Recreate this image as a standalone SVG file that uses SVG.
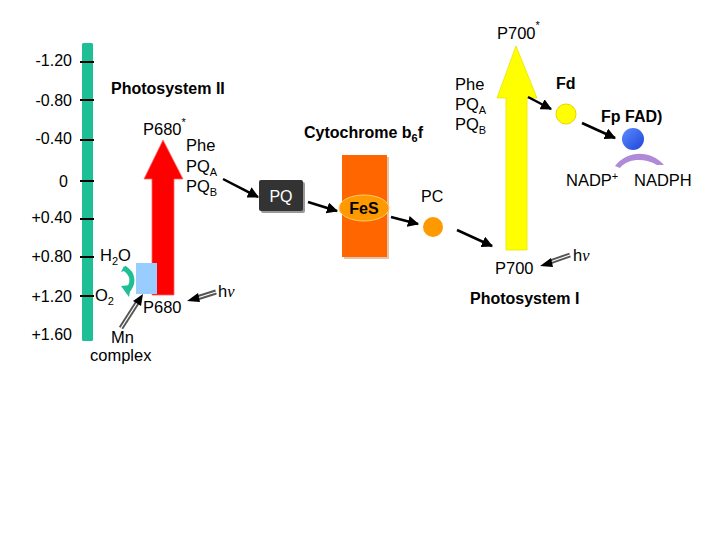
<svg xmlns="http://www.w3.org/2000/svg" width="720" height="540" viewBox="0 0 720 540">
<defs>
<marker id="ah" viewBox="0 0 10 10" refX="9" refY="5" markerWidth="4.5" markerHeight="4.5" orient="auto" markerUnits="strokeWidth">
<path d="M0,0 L10,5 L0,10 z" fill="#000"/>
</marker>
<linearGradient id="blueg" x1="0" y1="0" x2="1" y2="1">
<stop offset="0" stop-color="#5b8cff"/><stop offset="1" stop-color="#1f44d8"/>
</linearGradient>
</defs>
<style>
text{font-family:"Liberation Sans",Arial,sans-serif;fill:#000}
.ax{font-size:16px;text-anchor:end}
.lb{font-size:16.5px}
.bd{font-size:16px;font-weight:bold}
.sub{font-size:11px}
.con{stroke:#000;stroke-width:2.5;fill:none}
.tick{stroke:#000;stroke-width:2}
.hv1{stroke:#555;stroke-width:5;fill:none}
.hv2{stroke:#fff;stroke-width:1.2;fill:none}
</style>
<rect width="720" height="540" fill="#fff"/>

<g id="scale">
<rect x="82" y="43" width="11" height="298" fill="#1fbf96" rx="1.5"/>
<line class="tick" x1="80" y1="62" x2="94" y2="62"/>
<line class="tick" x1="80" y1="100" x2="94" y2="100"/>
<line class="tick" x1="80" y1="140" x2="94" y2="140"/>
<line class="tick" x1="80" y1="181" x2="94" y2="181"/>
<line class="tick" x1="80" y1="219" x2="94" y2="219"/>
<line class="tick" x1="80" y1="257" x2="94" y2="257"/>
<line class="tick" x1="80" y1="296" x2="94" y2="296"/>
<text class="ax" x="72" y="66">-1.20</text>
<text class="ax" x="72" y="106">-0.80</text>
<text class="ax" x="72" y="144">-0.40</text>
<text class="ax" x="68" y="187">0</text>
<text class="ax" x="72" y="223">+0.40</text>
<text class="ax" x="72" y="262">+0.80</text>
<text class="ax" x="72" y="302">+1.20</text>
<text class="ax" x="72" y="340">+1.60</text>
</g>

<g id="ps2">
<text class="bd" x="111" y="94">Photosystem II</text>
<path d="M152,295 L152,179 L144,179 L163,140 L183,179 L174,179 L174,295 Z" fill="#ff0000" stroke="#ff6666" stroke-width="0.8"/>
<rect x="136" y="263" width="21" height="31" fill="#99ccff"/>
<text class="lb" x="143" y="135">P680<tspan class="sub" dy="-9">*</tspan></text>
<text class="lb" x="186" y="151">Phe</text>
<text class="lb" x="186" y="172">PQ<tspan class="sub" dy="4">A</tspan></text>
<text class="lb" x="186" y="192">PQ<tspan class="sub" dy="4">B</tspan></text>
<text class="lb" x="143" y="313">P680</text>
<text class="lb" x="100" y="261">H<tspan class="sub" dy="4">2</tspan><tspan dy="-4">O</tspan></text>
<text class="lb" x="95" y="301">O<tspan class="sub" dy="4">2</tspan></text>
<path d="M124,268 C134,274 134,284 127,291" stroke="#1fbf96" stroke-width="5" fill="none"/>
<path d="M121,286 L129,297 L131,285 Z" fill="#1fbf96"/>
<path d="M124,266 L121,272 L127,270 Z" fill="#1fbf96"/>
<text class="lb" x="111" y="343">Mn</text>
<text class="lb" x="90" y="361">complex</text>
<text class="lb" x="218" y="297">h<tspan font-family="Liberation Serif" font-style="italic">ν</tspan></text>
</g>

<g id="cyt">
<text class="bd" x="304" y="138">Cytochrome b<tspan class="sub" dy="4">6</tspan><tspan dy="-4">f</tspan></text>
<rect x="344" y="157" width="45" height="102" fill="#cc8855" opacity="0.5"/>
<rect x="342" y="155" width="45" height="102" fill="#ff6600"/>
</g>

<g id="pq">
<rect x="261" y="182" width="44" height="31" rx="2" fill="#999"/>
<rect x="259" y="180" width="44" height="31" rx="2" fill="#333"/>
<text x="281" y="202" font-size="16" text-anchor="middle" style="fill:#fff">PQ</text>
</g>

<g id="fes">
<ellipse cx="364" cy="208" rx="25" ry="13" fill="#ff9900" stroke="#ffcc66" stroke-width="1"/>
<text x="364" y="214" font-size="16" font-weight="bold" text-anchor="middle">FeS</text>
</g>

<g id="pc">
<text x="421" y="202" font-size="16">PC</text>
<circle cx="433" cy="227" r="10" fill="#ff9900"/>
</g>

<g id="ps1">
<path d="M506,250 L506,98 L497,98 L516,46 L537,98 L527,98 L527,250 Z" fill="#ffff00" stroke="#e6e600" stroke-width="0.8"/>
<text class="lb" x="497" y="39">P700<tspan class="sub" dy="-10">*</tspan></text>
<text class="lb" x="455" y="90">Phe</text>
<text class="lb" x="455" y="110">PQ<tspan class="sub" dy="4">A</tspan></text>
<text class="lb" x="455" y="130">PQ<tspan class="sub" dy="4">B</tspan></text>
<text class="lb" x="495" y="274">P700</text>
<text class="lb" x="573" y="261">h<tspan font-family="Liberation Serif" font-style="italic">ν</tspan></text>
<text class="bd" x="470" y="304">Photosystem I</text>
</g>

<g id="fd">
<text class="bd" x="556" y="89">Fd</text>
<circle cx="566" cy="114" r="10" fill="#ffff00" stroke="#e6d200" stroke-width="1"/>
</g>

<g id="fp">
<text class="bd" x="601" y="122">Fp FAD)</text>
<circle cx="633" cy="139" r="11" fill="url(#blueg)"/>
<path d="M615,166 C628,150 650,150 664,165 L657,165 C645,158 628,158 620,168 Z" fill="#b08ad8"/>
<text class="lb" x="566" y="186">NADP<tspan class="sub" dy="-6">+</tspan></text>
<text class="lb" x="634" y="186">NADPH</text>
</g>

<g id="connectors">
<line class="con" x1="223" y1="179" x2="258" y2="197" marker-end="url(#ah)"/>
<line class="con" x1="308" y1="202" x2="337" y2="211" marker-end="url(#ah)"/>
<line class="con" x1="391" y1="217" x2="418" y2="224" marker-end="url(#ah)"/>
<line class="con" x1="457" y1="230" x2="492" y2="246" marker-end="url(#ah)"/>
<line class="con" x1="528" y1="97" x2="551" y2="109" marker-end="url(#ah)"/>
<line class="con" x1="582" y1="123" x2="615" y2="138" marker-end="url(#ah)"/>
<line class="hv1" x1="216" y1="292" x2="197" y2="298"/>
<line class="hv2" x1="216" y1="292" x2="197" y2="298"/>
<path d="M187,301 L198,293 L200,302 Z" fill="#000"/>
<line class="hv1" x1="570" y1="255" x2="550" y2="262"/>
<line class="hv2" x1="570" y1="255" x2="550" y2="262"/>
<path d="M540,266 L551,258 L553,267 Z" fill="#000"/>
<line class="hv1" x1="121" y1="328" x2="137" y2="303"/>
<line class="hv2" x1="121" y1="328" x2="137" y2="303"/>
<path d="M143,294 L141,306 L133,301 Z" fill="#000"/>
</g>
</svg>
